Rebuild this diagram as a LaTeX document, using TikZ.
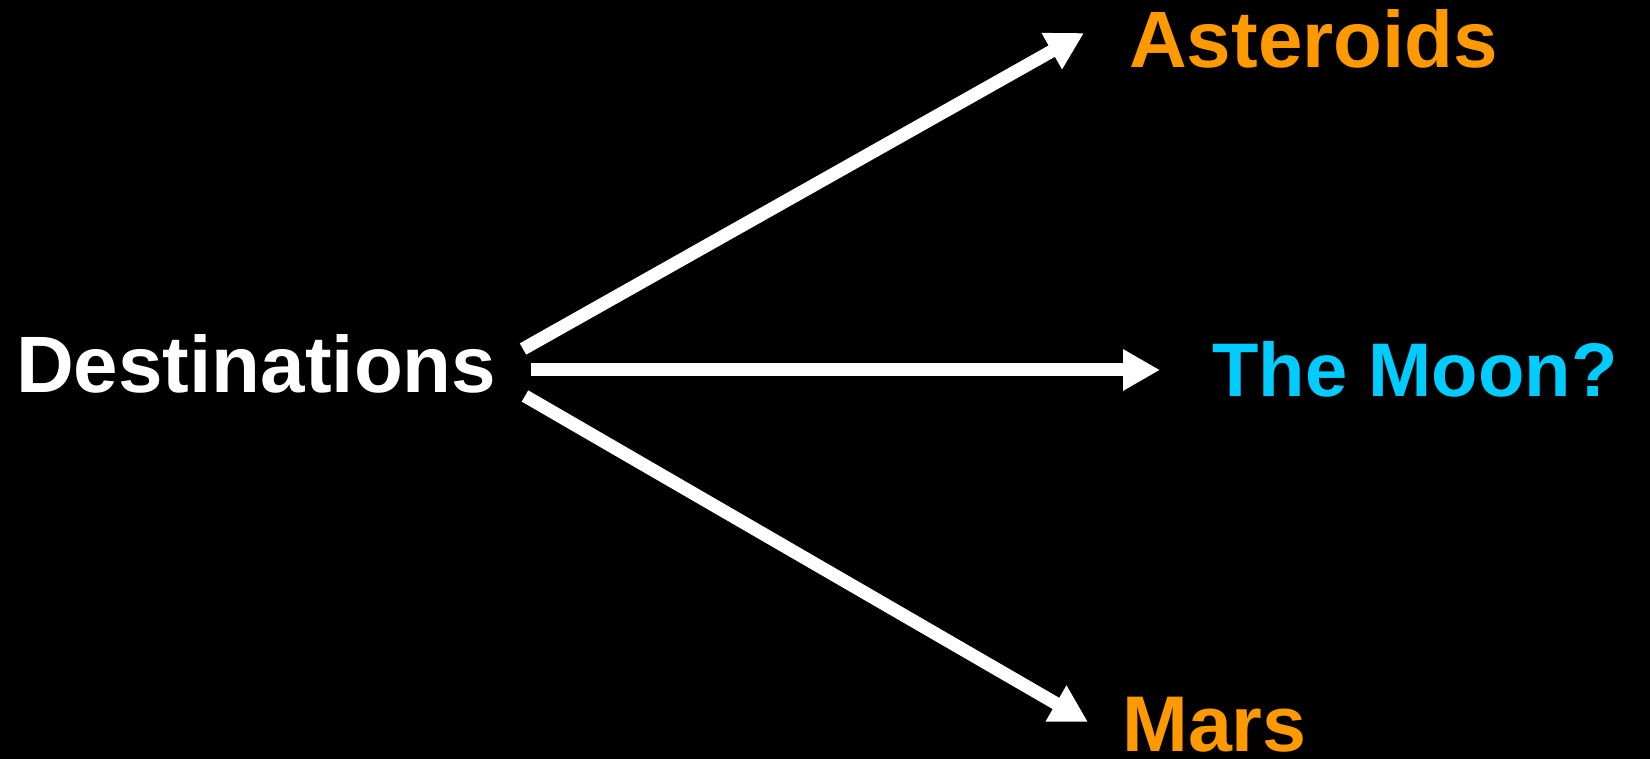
\documentclass[tikz,border=0pt]{standalone}
\usepackage{fontspec}
\setmainfont{Liberation Sans}
\usetikzlibrary{arrows.meta}
\definecolor{orng}{RGB}{255,153,0}
\definecolor{cyn}{RGB}{0,204,255}
\tikzset{
  lbl/.style={inner sep=0pt, anchor=base west, font=\fontsize{#1}{90}\selectfont\bfseries},
  bigarrow/.style={draw=white, line width=13pt, -{Triangle[length=37pt,width=39pt]}}
}
\begin{document}
\begin{tikzpicture}[x=1pt,y=1pt]
\fill[black] (0,0) rectangle (1650,759);
\useasboundingbox (0,0) rectangle (1650,759);
\node[lbl=80, text=white] (dest) at (16,366) {Destinations};
\node[lbl=80, text=orng] (ast) at (1129,691) {Asteroids};
\node[lbl=76, text=cyn] (moon) at (1212,362) {The Moon?};
\node[lbl=79, text=orng] (mars) at (1122,7) {Mars};
\coordinate (s1) at (523,410);
\coordinate (s2) at (531,389);
\coordinate (s3) at (525,363);
\coordinate (e1) at (1084,726);
\coordinate (e2) at (1160,389);
\coordinate (e3) at (1088,37);
\draw[bigarrow] (s1) -- (e1);
\draw[bigarrow] (s2) -- (e2);
\draw[bigarrow] (s3) -- (e3);
\end{tikzpicture}
\end{document}
